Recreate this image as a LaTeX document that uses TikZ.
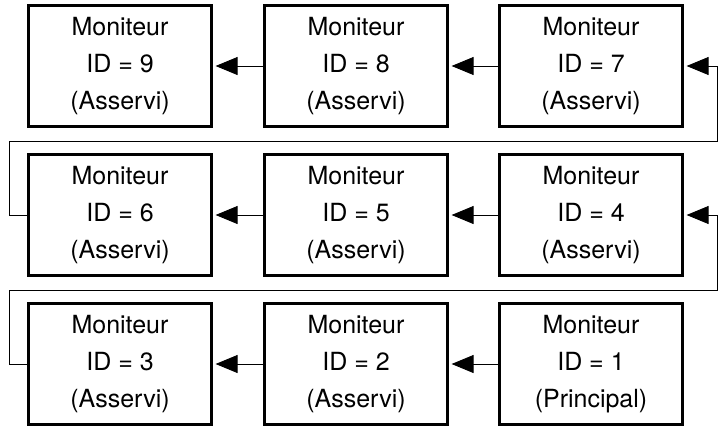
\documentclass[tikz,border=0pt]{standalone}
\usepackage{fontspec}
\setmainfont{TeX Gyre Heros}
\usetikzlibrary{arrows.meta}
\begin{document}
\begin{tikzpicture}[x=1pt,y=-1pt,
 box/.style={draw,line width=2.2pt,minimum width=183pt,minimum height=121pt,inner sep=0pt,align=center,font=\fontsize{25}{37}\selectfont},
 con/.style={line width=0.9pt,-{Triangle[length=22pt,width=18pt]},shorten >=3pt}]
\useasboundingbox (0,0) rectangle (723,440);
\foreach \n/\x/\y/\t in {9/120/66/Asservi,8/356/66/Asservi,7/591/66/Asservi,
 6/120/215/Asservi,5/356/215/Asservi,4/591/215/Asservi,
 3/120/364/Asservi,2/356/364/Asservi,1/591/364/Principal}
 \node[box] (m\n) at (\x,\y) {Moniteur\\ID = \n\\(\t)};
\draw[con] (m8) -- (m9);
\draw[con] (m7) -- (m8);
\draw[con] (m5) -- (m6);
\draw[con] (m4) -- (m5);
\draw[con] (m2) -- (m3);
\draw[con] (m1) -- (m2);
\coordinate (a1) at (717,66); \coordinate (a2) at (717,141);
\coordinate (a3) at (9,141); \coordinate (a4) at (9,215);
\coordinate (b1) at (717,215); \coordinate (b2) at (717,290);
\coordinate (b3) at (9,290); \coordinate (b4) at (9,364);
\draw[con] (m6.west) -- (a4) -- (a3) -- (a2) -- (a1) -- (m7.east);
\draw[con] (m3.west) -- (b4) -- (b3) -- (b2) -- (b1) -- (m4.east);
\end{tikzpicture}
\end{document}
